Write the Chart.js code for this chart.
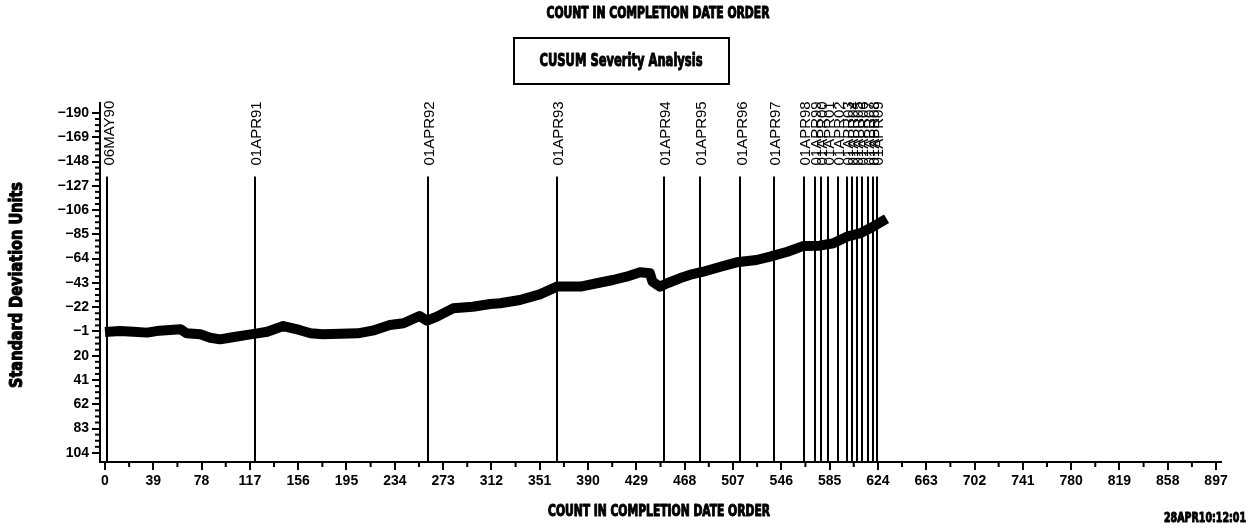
<!DOCTYPE html>
<html>
<head>
<meta charset="utf-8">
<title>CUSUM Severity Analysis</title>
<script src="https://cdn.jsdelivr.net/npm/chart.js@4.4.1/dist/chart.umd.min.js"></script>
<style>
  html, body { margin: 0; padding: 0; background: #fff; }
  #wrap { width: 1251px; height: 529px; }
</style>
</head>
<body>
<div id="wrap"><canvas id="cusum" width="1251" height="529"></canvas></div>
<script>
// CUSUM of severity, in standard deviation units, against count in completion date order
const counts = [0, 12, 23, 34, 44, 61, 66, 77, 85, 93, 103, 115, 123, 131, 144, 157, 166, 176,
  204, 216, 230, 241, 254, 260, 268, 281, 297, 311, 319, 335, 351, 365, 384, 397, 410, 421,
  432, 440, 442, 448, 454, 464, 472, 483, 497, 510, 526, 537, 551, 564, 577, 588, 599, 610,
  620, 631];
const cusumValues = [-0.5, -1.4, -0.8, 0, -1.7, -2.9, 0.6, 1.4, 4.4, 5.8, 4.0, 2.0, 0.6, -0.8,
  -5.7, -2.3, 0.6, 1.4, 0.6, -1.7, -6.6, -8.1, -14.4, -10.3, -13.8, -21.0, -22.4, -24.8, -25.4,
  -28.2, -33.1, -39.8, -39.8, -42.7, -45.5, -48.4, -52.2, -51.3, -44.1, -39.8, -42.7, -47.0,
  -49.9, -52.7, -57.0, -60.8, -62.8, -65.7, -70.0, -75.0, -75.2, -77.3, -83.0, -86.0, -91.6,
  -98.5];

// Reference dates marked along the count axis
const refCounts = [2, 121, 261, 365, 451, 480, 513, 540, 564, 573, 578, 584, 592, 599, 603,
  607, 611, 616, 620, 623];
const refLabels = ['06MAY90', '01APR91', '01APR92', '01APR93', '01APR94', '01APR95', '01APR96',
  '01APR97', '01APR98', '01APR99', '01APR00', '01APR01', '01APR02', '01APR03', '01APR04',
  '01APR05', '01APR06', '01APR07', '01APR08', '01APR09'];

const xTicks = [0, 39, 78, 117, 156, 195, 234, 273, 312, 351, 390, 429, 468, 507, 546, 585,
  624, 663, 702, 741, 780, 819, 858, 897];
const yTicks = [-190, -169, -148, -127, -106, -85, -64, -43, -22, -1, 20, 41, 62, 83, 104];

const titleText = 'COUNT IN COMPLETION DATE ORDER';
const boxText = 'CUSUM Severity Analysis';
const yTitle = 'Standard Deviation Units';
const xTitle = 'COUNT IN COMPLETION DATE ORDER';
const stampText = '28APR10:12:01';
const refTop = -135;

const heavyFont = "'DejaVu Sans Condensed', 'DejaVu Sans', sans-serif";
const plainFont = "'Liberation Sans', Arial, sans-serif";

// heavy condensed text squeezed to a given width
function fitText(ctx, text, cx, cy, width, size, rotate) {
  ctx.save();
  ctx.font = 'bold ' + size + 'px ' + heavyFont;
  const w = ctx.measureText(text).width;
  ctx.translate(cx, cy);
  if (rotate) ctx.rotate(-Math.PI / 2);
  ctx.scale(width / w, 1);
  ctx.textAlign = 'center';
  ctx.textBaseline = 'middle';
  ctx.fillStyle = '#000';
  ctx.strokeStyle = '#000';
  ctx.lineWidth = 1;
  ctx.lineJoin = 'round';
  ctx.fillText(text, 0, 0);
  ctx.strokeText(text, 0, 0);
  ctx.restore();
}

const decorations = {
  id: 'decorations',
  beforeDatasetsDraw(chart) {
    const { ctx, scales: { x, y }, chartArea } = chart;
    ctx.save();
    // reference lines
    ctx.strokeStyle = '#000';
    ctx.lineWidth = 2;
    refCounts.forEach((c) => {
      const px = Math.round(x.getPixelForValue(c));
      ctx.beginPath();
      ctx.moveTo(px, y.getPixelForValue(refTop));
      ctx.lineTo(px, chartArea.bottom);
      ctx.stroke();
    });
    // reference labels
    ctx.fillStyle = '#000';
    ctx.font = '15px ' + plainFont;
    ctx.textAlign = 'left';
    ctx.textBaseline = 'middle';
    refCounts.forEach((c, i) => {
      const px = x.getPixelForValue(c);
      ctx.save();
      ctx.translate(px + 2, y.getPixelForValue(refTop) - 11);
      ctx.rotate(-Math.PI / 2);
      ctx.fillText(refLabels[i], 0, 0);
      ctx.restore();
    });
    // minor ticks
    ctx.lineWidth = 2;
    for (let i = 0; i < xTicks.length - 1; i++) {
      const px = x.getPixelForValue((xTicks[i] + xTicks[i + 1]) / 2);
      ctx.beginPath();
      ctx.moveTo(px, chartArea.bottom);
      ctx.lineTo(px, chartArea.bottom + 5);
      ctx.stroke();
    }
    for (let i = 0; i < yTicks.length - 1; i++) {
      const step = (yTicks[i + 1] - yTicks[i]) / 4;
      for (let k = 1; k < 4; k++) {
        const py = y.getPixelForValue(yTicks[i] + step * k);
        ctx.beginPath();
        ctx.moveTo(chartArea.left, py);
        ctx.lineTo(chartArea.left - 5, py);
        ctx.stroke();
      }
    }
    ctx.restore();
  },
  afterDraw(chart) {
    const { ctx } = chart;
    fitText(ctx, titleText, 658, 14, 223, 15, false);
    ctx.save();
    ctx.strokeStyle = '#000';
    ctx.lineWidth = 2;
    ctx.strokeRect(514, 38, 215, 46);
    ctx.restore();
    fitText(ctx, boxText, 621, 61, 163, 18, false);
    fitText(ctx, yTitle, 18, 285, 206, 17, true);
    fitText(ctx, xTitle, 659, 512, 222, 15, false);
    fitText(ctx, stampText, 1205, 518, 82, 14, false);
  }
};

const points = counts.map((c, i) => ({ x: c, y: cusumValues[i] }));

new Chart(document.getElementById('cusum'), {
  type: 'scatter',
  data: {
    datasets: [{
      data: points,
      showLine: true,
      borderColor: '#000',
      backgroundColor: '#000',
      borderWidth: 10,
      borderJoinStyle: 'round',
      borderCapStyle: 'butt',
      pointRadius: 0,
      tension: 0
    }]
  },
  options: {
    responsive: false,
    animation: false,
    devicePixelRatio: 1,
    layout: { padding: { top: 103, right: 30, left: 0, bottom: 0 } },
    plugins: { legend: { display: false }, tooltip: { enabled: false }, title: { display: false } },
    scales: {
      x: {
        type: 'linear',
        min: -4,
        max: 901,
        afterBuildTicks(scale) { scale.ticks = xTicks.map((v) => ({ value: v })); },
        afterFit(scale) { scale.height = 67; },
        ticks: { color: '#000', font: { family: plainFont, size: 14, weight: 'bold' }, maxRotation: 0, autoSkip: false, padding: 3 },
        grid: { drawOnChartArea: false, drawTicks: true, tickLength: 8, color: '#000', lineWidth: 2 },
        border: { display: true, color: '#000', width: 2 }
      },
      y: {
        type: 'linear',
        reverse: true,
        min: -198.6,
        max: 111.9,
        afterBuildTicks(scale) { scale.ticks = yTicks.map((v) => ({ value: v })); },
        afterFit(scale) { scale.width = 100; },
        ticks: {
          color: '#000', font: { family: plainFont, size: 14, weight: 'bold' }, autoSkip: false, padding: 3,
          callback: (v) => String(v).replace('-', '\u2212')
        },
        grid: { drawOnChartArea: false, drawTicks: true, tickLength: 8, color: '#000', lineWidth: 2 },
        border: { display: true, color: '#000', width: 2 }
      }
    }
  },
  plugins: [decorations]
});
</script>
</body>
</html>
